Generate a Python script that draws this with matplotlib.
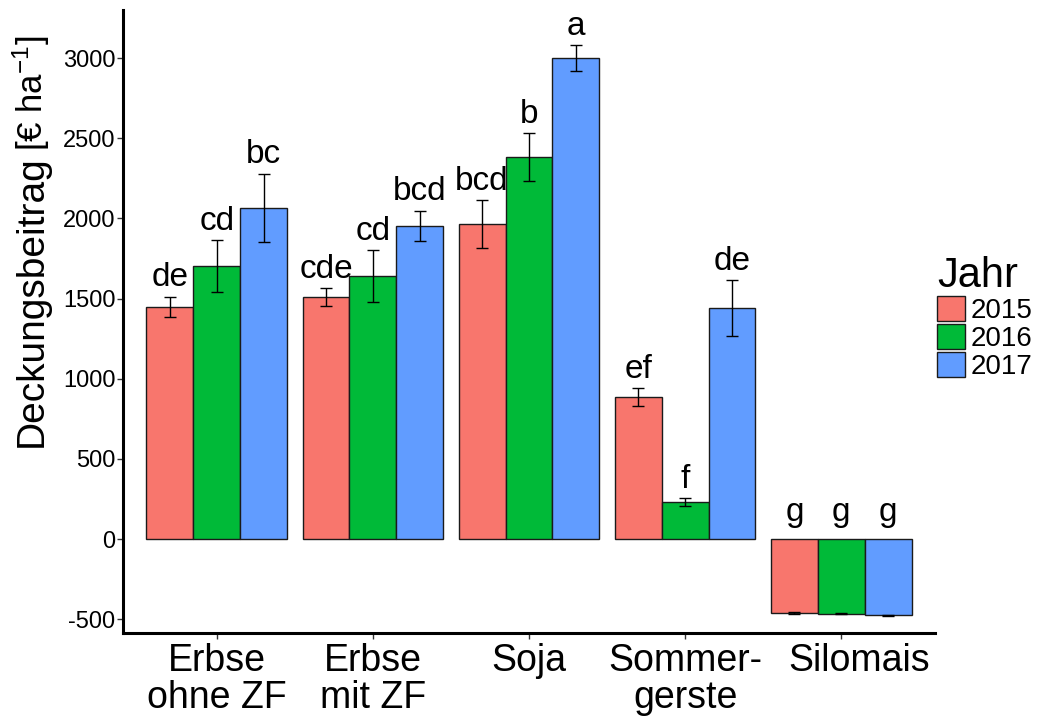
import matplotlib.pyplot as plt
import numpy as np
from matplotlib.patches import Patch
from matplotlib.transforms import ScaledTranslation

plt.rcParams['font.family'] = ['Liberation Sans', 'DejaVu Sans']
plt.rcParams['mathtext.fontset'] = 'custom'
plt.rcParams['mathtext.rm'] = 'Liberation Sans'
plt.rcParams['mathtext.default'] = 'regular'

# Daten
crops = ['Erbse\nohne ZF', 'Erbse\nmit ZF', 'Soja', 'Sommer-\ngerste', 'Silomais']
years = ['2015', '2016', '2017']
colors = ['#F8766D', '#00BA38', '#619CFF']

db_2015 = [1447, 1510, 1965, 886, -462]
db_2016 = [1703, 1640, 2383, 231, -465]
db_2017 = [2065, 1953, 3000, 1441, -475]
se_2015 = [65, 55, 150, 55, 4]
se_2016 = [160, 160, 150, 25, 4]
se_2017 = [215, 95, 80, 175, 4]
letters_2015 = ['de', 'cde', 'bcd', 'ef', 'g']
letters_2016 = ['cd', 'cd', 'b', 'f', 'g']
letters_2017 = ['bc', 'bcd', 'a', 'de', 'g']

means = [db_2015, db_2016, db_2017]
ses = [se_2015, se_2016, se_2017]
letters = [letters_2015, letters_2016, letters_2017]

fig = plt.figure(figsize=(10.43, 7.28), dpi=100)
ax = fig.add_axes([123 / 1043, 95 / 728, 812 / 1043, 623 / 728])

x = np.arange(1, len(crops) + 1)
w = 0.3
for i in range(3):
    xi = x + (i - 1) * w
    m = np.array(means[i])
    s = np.array(ses[i])
    ax.bar(xi, m, width=w, color=colors[i], edgecolor='#1a1a1a', linewidth=1.0, zorder=2)
    ax.errorbar(xi, m, yerr=s, fmt='none', ecolor='black', elinewidth=1.0,
                capsize=4, capthick=1.0, zorder=3)
    for xx, mm, ss, lab in zip(xi, m, s, letters[i]):
        top = max(mm + ss, 50)
        ax.text(xx, top + 65, lab, ha='center', va='baseline', fontsize=24)

ax.set_xlim(0.4, 5.6)
ax.set_ylim(-586, 3300)
ax.set_xticks(x)
ax.set_xticklabels(crops, fontsize=27, linespacing=1.05)
ax.set_yticks(np.arange(-500, 3001, 500))
ax.set_yticklabels([str(v) for v in range(-500, 3001, 500)], fontsize=17)
ax.tick_params(axis='both', direction='out', length=4, width=1, color='#333333')
ax.tick_params(axis='x', pad=3)
ax.tick_params(axis='y', pad=1.5)

# "Silomais" sitzt im Original etwas rechts vom Tick
lbl = ax.get_xticklabels()[-1]
lbl.set_transform(lbl.get_transform() + ScaledTranslation(0.18, 0, fig.dpi_scale_trans))

for side in ['top', 'right']:
    ax.spines[side].set_visible(False)
for side in ['left', 'bottom']:
    ax.spines[side].set_linewidth(2.2)
    ax.spines[side].set_color('black')

# y-Achsentitel
fig.text(42 / 1043, 1 - 447 / 728, 'Deckungsbeitrag', rotation=90, rotation_mode='anchor',
         ha='left', va='baseline', fontsize=28)
fig.text(43 / 1043, 1 - 151 / 728, r'[€ ha$^{-1}$]', rotation=90, rotation_mode='anchor',
         ha='left', va='baseline', fontsize=25)

handles = [Patch(facecolor=c, edgecolor='#1a1a1a', linewidth=1.0) for c in colors]
leg = fig.legend(handles, years, title='Jahr', loc='upper left',
                 bbox_to_anchor=(937 / 1043, 1 - 256 / 728), frameon=False,
                 fontsize=20, title_fontsize=30, handlelength=1.0, handleheight=1.0,
                 labelspacing=0.0, handletextpad=0.2, borderpad=0.0, borderaxespad=0.0,
                 alignment='left')

fig.savefig('out.png', dpi=100)
